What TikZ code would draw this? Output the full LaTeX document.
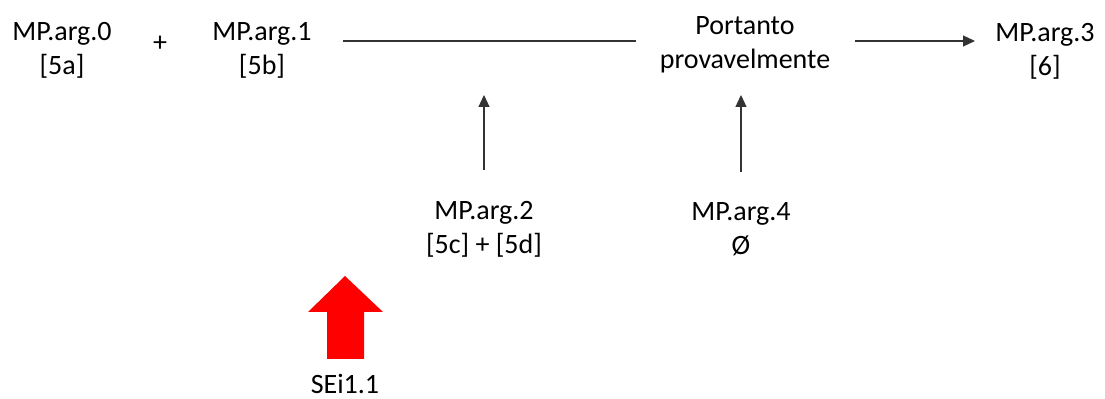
\documentclass[tikz,border=0pt]{standalone}
\usepackage{fontspec}
\setmainfont{Carlito}
\usetikzlibrary{arrows.meta,positioning}
\tikzset{
  rot/.style={align=center,font=\fontsize{14}{17}\selectfont,inner sep=0pt},
  linha/.style={draw=black!80,line width=0.6pt},
  seta/.style={linha,-{Triangle[length=6pt,width=5.5pt]}},
}

\begin{document}
\begin{tikzpicture}[x=0.5pt,y=-0.5pt]
  \useasboundingbox (0,0) rectangle (1105,399);
  % linha de cima
  \node[rot] (argzero) at (62,50) {MP.arg.0\\ {[5a]}};
  \node[rot] (mais) at (160,44) {+};
  \node[rot] (argone) at (262,50) {MP.arg.1\\ {[5b]}};
  \node[rot] (portanto) at (745,45) {Portanto\\ provavelmente};
  \node[rot] (argthree) at (1045,51) {MP.arg.3\\ {[6]}};
  % linha de baixo
  \node[rot] (argtwo) at (484,229) {MP.arg.2\\ {[5c]} + [5d]};
  \node[rot] (argfour) at (741,229) {MP.arg.4\\ Ø};
  \node[rot] (sei) at (345,384) {SEi1.1};
  % ligacoes
  \coordinate (ini) at (343,41);
  \coordinate (fim) at (636,41);
  \coordinate (saida) at (855,41);
  \coordinate (chegada) at (975,41);
  \coordinate (alvo) at (484,95);
  \coordinate (alvob) at (741,95);
  \draw[linha] (ini) -- (fim);
  \draw[seta] (saida) -- (chegada);
  \draw[seta] (argtwo.north |- 0,170) -- (alvo);
  \draw[seta] (argfour.north |- 0,172) -- (alvob);
  % seta vermelha
  \fill[red] (327,359) -- (327,312) -- (308,312) -- (345,276)
    -- (383,312) -- (364,312) -- (364,359) -- cycle;
\end{tikzpicture}
\end{document}
